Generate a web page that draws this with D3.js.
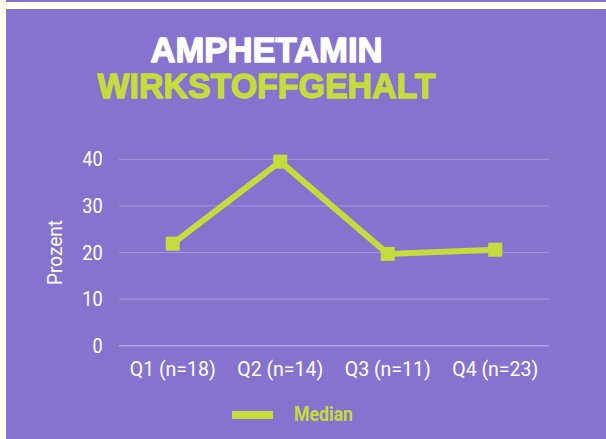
<!DOCTYPE html>
<html><head><meta charset="utf-8">
<script src="https://cdn.jsdelivr.net/npm/d3@7"></script>
<style>html,body{margin:0;padding:0;background:#fffff0;}svg{display:block;}</style>
</head><body>
<svg id="c" width="606" height="439"></svg>
<script>
const categories = ["Q1 (n=18)", "Q2 (n=14)", "Q3 (n=11)", "Q4 (n=23)"];
const medianValues = [21.9, 39.5, 19.7, 20.6];
const yTicks = [0, 10, 20, 30, 40];
const seriesName = "Median";
const titleLine1 = "AMPHETAMIN";
const titleLine2 = "WIRKSTOFFGEHALT";
const yLabel = "Prozent";

const purple = "#8673cf", green = "#c4dc3c", grid = "#a495da";
const svg = d3.select("#c");
svg.append("rect").attr("x",0).attr("y",0).attr("width",606).attr("height",439).attr("fill","#fffff0");
svg.append("rect").attr("x",6).attr("y",0).attr("width",600).attr("height",2).attr("fill",purple);
svg.append("rect").attr("x",6).attr("y",9).attr("width",600).attr("height",430).attr("fill",purple);

// titles (one text element, two lines)
const title = svg.append("text").attr("text-anchor","middle")
  .attr("font-family","Liberation Sans, Arial, sans-serif").attr("font-weight","bold")
  .attr("font-size",35).attr("stroke-linejoin","round");
title.append("tspan").attr("x",266.5).attr("y",62.3)
  .attr("fill","#ffffff").attr("stroke","#ffffff").attr("stroke-width",1.4)
  .attr("textLength",232).attr("lengthAdjust","spacingAndGlyphs").text(titleLine1);
title.append("tspan").attr("x",266.5).attr("y",98.3)
  .attr("fill",green).attr("stroke",green).attr("stroke-width",1.4)
  .attr("textLength",338).attr("lengthAdjust","spacingAndGlyphs").text(titleLine2);

const x = d3.scaleBand().domain(categories).range([119, 549]);
const y = d3.scaleLinear().domain([0, 40]).range([345.7, 159.3]);

// gridlines
svg.append("g").selectAll("line").data(yTicks).join("line")
  .attr("x1",119).attr("x2",549).attr("y1",d=>y(d)).attr("y2",d=>y(d))
  .attr("stroke",d=>d===0?"#b2a6e2":grid).attr("stroke-width",d=>d===0?1.5:1);

// y tick labels
svg.append("g").selectAll("text").data(yTicks).join("text")
  .attr("x",102.7).attr("y",d=>y(d)+7).attr("text-anchor","end")
  .attr("font-family","Roboto, sans-serif").attr("font-size",19.5).attr("fill","#ffffff")
  .attr("textLength",d=>String(d).length*10.2).attr("lengthAdjust","spacingAndGlyphs")
  .text(d=>d);

// x labels
svg.append("g").selectAll("text").data(categories).join("text")
  .attr("x",d=>x(d)+x.bandwidth()/2).attr("y",376).attr("text-anchor","middle")
  .attr("font-family","Roboto, sans-serif").attr("font-size",20).attr("fill","#ffffff")
  .attr("textLength",86).attr("lengthAdjust","spacingAndGlyphs")
  .text(d=>d);

// y axis label
svg.append("text").attr("transform","translate(62,252.5) rotate(-90)").attr("text-anchor","middle")
  .attr("font-family","Roboto, sans-serif").attr("font-size",19.5).attr("fill","#ffffff")
  .attr("textLength",65).attr("lengthAdjust","spacingAndGlyphs").text(yLabel);

// line
const pts = categories.map((c,i)=>[x(c)+x.bandwidth()/2, y(medianValues[i])]);
svg.append("path").attr("d", d3.line()(pts)).attr("fill","none").attr("stroke",green)
  .attr("stroke-width",6).attr("stroke-linejoin","miter");
svg.append("g").selectAll("rect").data(pts).join("rect")
  .attr("x",d=>d[0]-7).attr("y",d=>d[1]-7).attr("width",14).attr("height",14).attr("fill",green);

// legend
svg.append("rect").attr("x",232).attr("y",411).attr("width",41).attr("height",8).attr("fill",green);
svg.append("text").attr("x",294).attr("y",421).attr("font-family","Roboto, sans-serif")
  .attr("font-weight","bold").attr("font-size",20).attr("fill",green)
  .attr("textLength",59).attr("lengthAdjust","spacingAndGlyphs").text(seriesName);
</script>
</body></html>
